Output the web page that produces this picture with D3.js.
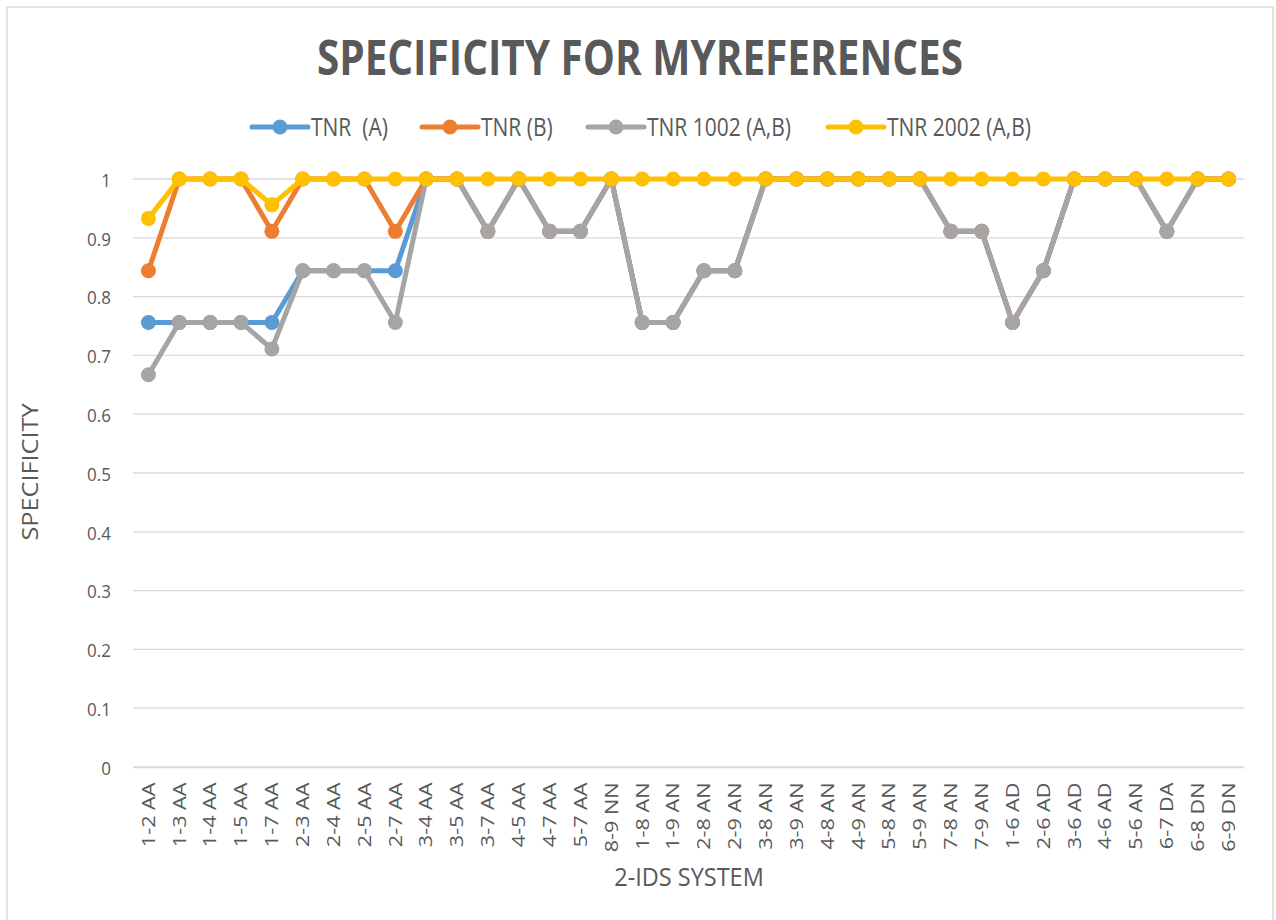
<!DOCTYPE html>
<html>
<head>
<meta charset="utf-8">
<script src="https://cdn.jsdelivr.net/npm/d3@7"></script>
<style>
  html, body { margin: 0; padding: 0; background: #fff; }
  svg { display: block; }
  text { font-family: "Open Sans", "Noto Sans", "DejaVu Sans", sans-serif; fill: #595959; }
</style>
</head>
<body>
<svg id="chart" width="1276" height="920"></svg>
<script>
const categories = ["1-2 AA","1-3 AA","1-4 AA","1-5 AA","1-7 AA","2-3 AA","2-4 AA","2-5 AA","2-7 AA","3-4 AA","3-5 AA","3-7 AA","4-5 AA","4-7 AA","5-7 AA","8-9 NN","1-8 AN","1-9 AN","2-8 AN","2-9 AN","3-8 AN","3-9 AN","4-8 AN","4-9 AN","5-8 AN","5-9 AN","7-8 AN","7-9 AN","1-6 AD","2-6 AD","3-6 AD","4-6 AD","5-6 AN","6-7 DA","6-8 DN","6-9 DN"];

const tnrA    = [0.756,0.756,0.756,0.756,0.756,0.844,0.844,0.844,0.844,1,1,0.911,1,0.911,0.911,1,0.756,0.756,0.844,0.844,1,1,1,1,1,1,0.911,0.911,0.756,0.844,1,1,1,0.911,1,1];
const tnrB    = [0.844,1,1,1,0.911,1,1,1,0.911,1,1,0.911,1,0.911,0.911,1,0.756,0.756,0.844,0.844,1,1,1,1,1,1,0.911,0.911,0.756,0.844,1,1,1,0.911,1,1];
const tnr1002 = [0.667,0.756,0.756,0.756,0.711,0.844,0.844,0.844,0.756,1,1,0.911,1,0.911,0.911,1,0.756,0.756,0.844,0.844,1,1,1,1,1,1,0.911,0.911,0.756,0.844,1,1,1,0.911,1,1];
const tnr2002 = [0.933,1,1,1,0.956,1,1,1,1,1,1,1,1,1,1,1,1,1,1,1,1,1,1,1,1,1,1,1,1,1,1,1,1,1,1,1];

const seriesNames  = ["TNR  (A)","TNR (B)","TNR 1002 (A,B)","TNR 2002 (A,B)"];
const seriesColors = ["#5B9BD5","#ED7D31","#A5A5A5","#FFC000"];
const yTicks = [0,0.1,0.2,0.3,0.4,0.5,0.6,0.7,0.8,0.9,1];

const seriesData = [tnrA, tnrB, tnr1002, tnr2002];

const svg = d3.select("#chart");

// chart border
svg.append("rect").attr("x",7).attr("y",7).attr("width",1266).attr("height",930)
  .attr("fill","none").attr("stroke","#d9d9d9").attr("stroke-width",1.5);

const plotL = 133, plotR = 1244, plotT = 179, plotB = 767;
const x = d3.scaleBand().domain(categories).range([plotL, plotR]);
const y = d3.scaleLinear().domain([0,1]).range([plotB, plotT]);

// gridlines
const grid = svg.append("g");
grid.selectAll("line").data(yTicks).join("line")
  .attr("x1", plotL).attr("x2", plotR)
  .attr("y1", d => y(d)).attr("y2", d => y(d))
  .attr("stroke", "#d9d9d9").attr("stroke-width", 1.3);

// y axis labels
const yAxis = d3.axisLeft(y).tickValues(yTicks).tickSize(0).tickPadding(0)
  .tickFormat(d => String(+d.toFixed(1)));
const gy = svg.append("g").attr("transform", `translate(111,0)`).call(yAxis);
gy.select(".domain").remove();
gy.selectAll(".tick text").attr("font-size", 17).attr("fill", "#595959")
  .attr("font-family", '"Open Sans", sans-serif').attr("dy","0.35em")
  .attr("transform", "scale(1,1.12)").attr("y", 0);
gy.selectAll(".tick").each(function(d){
  d3.select(this).select("text").attr("transform", null)
    .attr("dy", null).attr("dominant-baseline", "central");
});
gy.selectAll(".tick text").style("transform-box","fill-box").style("transform-origin","center")
  .style("transform","scaleY(1.12)");

// x axis
const xAxis = d3.axisBottom(x).tickSize(0).tickPadding(0);
const gx = svg.append("g").attr("transform", `translate(0,${plotB})`).call(xAxis);
gx.select(".domain").attr("stroke", "#d9d9d9").attr("stroke-width", 1.3);
gx.selectAll("text")
  .attr("font-size", 18).attr("fill", "#595959")
  .attr("font-family", '"Open Sans", sans-serif')
  .attr("text-anchor", "end")
  .attr("transform", "rotate(-90) scale(1.2,1)")
  .attr("x", -13).attr("y", 0).attr("dy", "0.35em");

// lines and markers
const line = d3.line().x((d,i) => x(categories[i]) + x.bandwidth()/2).y(d => y(d));
seriesData.forEach((vals, s) => {
  const g = svg.append("g");
  g.append("path").datum(vals).attr("d", line)
    .attr("fill","none").attr("stroke", seriesColors[s])
    .attr("stroke-width", 5).attr("stroke-linejoin","round").attr("stroke-linecap","round");
  g.selectAll("circle").data(vals).join("circle")
    .attr("cx", (d,i) => x(categories[i]) + x.bandwidth()/2)
    .attr("cy", d => y(d)).attr("r", 7.5)
    .attr("fill", seriesColors[s]);
});

// title
svg.append("text").attr("transform", "translate(640,75) scale(1,1.18)")
  .attr("text-anchor","middle")
  .attr("font-size", 40.5).attr("font-weight","bold").attr("fill","#595959")
  .text("SPECIFICITY FOR MYREFERENCES");

// axis titles
svg.append("text").attr("transform","translate(38,472) rotate(-90) scale(1.15,1)")
  .attr("text-anchor","middle").attr("font-size",22).attr("fill","#595959")
  .text("SPECIFICITY");
svg.append("text").attr("transform", "translate(689,886) scale(1,1.1)")
  .attr("text-anchor","middle")
  .attr("font-size",23.5).attr("fill","#595959").text("2-IDS SYSTEM");

// legend
const legendX = [252, 422, 588, 828];
const legend = svg.append("g");
seriesNames.forEach((name, i) => {
  const lx = legendX[i], ly = 127;
  legend.append("line").attr("x1", lx).attr("x2", lx+56).attr("y1", ly).attr("y2", ly)
    .attr("stroke", seriesColors[i]).attr("stroke-width", 5).attr("stroke-linecap","round");
  legend.append("circle").attr("cx", lx+28).attr("cy", ly).attr("r", 7.5).attr("fill", seriesColors[i]);
  legend.append("text").attr("transform", `translate(${lx+59},${ly}) scale(1,1.2)`)
    .attr("dy","0.35em")
    .attr("font-size", 21).attr("fill","#595959")
    .attr("font-family", '"Open Sans", sans-serif')
    .attr("xml:space","preserve").style("white-space","pre").text(name);
});
</script>
</body>
</html>
